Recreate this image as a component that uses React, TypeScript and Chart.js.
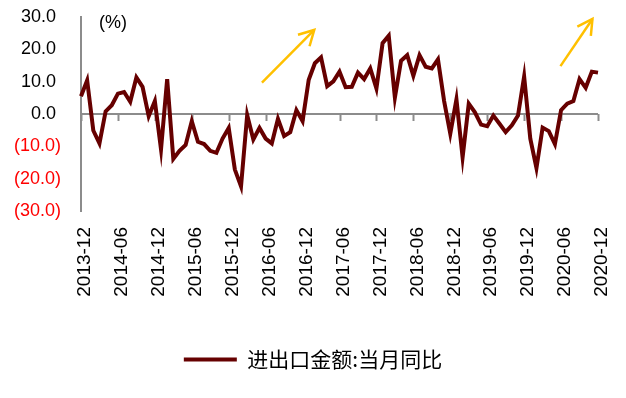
import React, { useEffect, useRef } from 'react';
import { Chart, registerables } from 'chart.js';

Chart.register(...registerables);

// Monthly categories 2013-12 .. 2020-12
const categories: string[] = (() => {
  const out: string[] = ['2013-12'];
  for (let y = 2014; y <= 2020; y++) {
    for (let m = 1; m <= 12; m++) out.push(`${y}-${String(m).padStart(2, '0')}`);
  }
  return out;
})();

const tickLabels = [
  '2013-12', '2014-06', '2014-12', '2015-06', '2015-12', '2016-06', '2016-12', '2017-06',
  '2017-12', '2018-06', '2018-12', '2019-06', '2019-12', '2020-06', '2020-12',
];

const seriesName = '进出口金额:当月同比';

const values = [
  5.5, 10.4, -5.1, -9.1, 0.8, 2.7, 6.3, 6.8, 3.8, 11.3, 8.4, -0.7,
  4.0, -10.9, 10.8, -13.9, -11.4, -9.6, -2.2, -8.6, -9.3, -11.4, -12.0, -7.6,
  -4.3, -17.2, -22.4, -0.3, -7.9, -4.3, -7.6, -9.1, -1.5, -6.8, -5.6, 1.2,
  -2.2, 10.6, 15.7, 17.5, 8.6, 10.1, 13.1, 8.3, 8.4, 12.8, 10.8, 14.1,
  7.9, 21.9, 24.2, 5.1, 16.5, 18.2, 11.8, 18.2, 14.6, 14.1, 16.9, 4.0,
  -6.1, 4.5, -13.4, 3.2, 0.5, -3.3, -3.8, -0.5, -3.0, -5.6, -3.5, -0.5,
  11.6, -7.6, -16.7, -4.2, -5.3, -9.3, 1.2, 3.2, 4.0, 10.8, 8.1, 13.1, 12.8,
];

const yMin = -30;
const yMax = 30;
const yStep = 10;
const unitLabel = '(%)';

// trend arrows in data coordinates: [categoryIndex, value]
const arrowFrom = [[29.4, 9.7], [77.9, 14.8]];
const arrowTo = [[37.9, 26.0], [83.1, 29.4]];

const lineColor = '#660000';
const axisColor = '#8c8c8c';
const arrowColor = '#FFC000';
const numFont = "'Liberation Sans', Arial, sans-serif";

const decorPlugin = {
  id: 'decor',
  afterLayout(chart: any) {
    const lg = chart.legend;
    if (lg) {
      lg.left += 10;
      lg.right += 10;
    }
  },
  beforeDatasetsDraw(chart: any) {
    const { ctx, chartArea, scales } = chart;
    const x = scales.x;
    const y = scales.y;
    const y0 = y.getPixelForValue(0);
    ctx.save();
    ctx.strokeStyle = axisColor;
    ctx.lineWidth = 2;
    ctx.beginPath();
    ctx.moveTo(chartArea.left, y0);
    ctx.lineTo(chartArea.right, y0);
    ctx.stroke();
    categories.forEach((c, i) => {
      if (!tickLabels.includes(c)) return;
      const px = Math.round(x.getPixelForValue(i)) + 0.5;
      ctx.beginPath();
      ctx.moveTo(px, y0);
      ctx.lineTo(px, y0 + 7);
      ctx.stroke();
    });
    ctx.restore();
  },
  afterDraw(chart: any) {
    const { ctx, chartArea, scales } = chart;
    const x = scales.x;
    const y = scales.y;
    ctx.save();
    ctx.fillStyle = '#000';
    ctx.font = `18px ${numFont}`;
    ctx.textAlign = 'left';
    ctx.textBaseline = 'middle';
    ctx.fillText(unitLabel, chartArea.left + 18, chartArea.top + 6);

    ctx.strokeStyle = arrowColor;
    ctx.lineWidth = 2.5;
    ctx.lineCap = 'butt';
    for (let k = 0; k < arrowFrom.length; k++) {
      const x1 = x.getPixelForValue(arrowFrom[k][0]);
      const y1 = y.getPixelForValue(arrowFrom[k][1]);
      const x2 = x.getPixelForValue(arrowTo[k][0]);
      const y2 = y.getPixelForValue(arrowTo[k][1]);
      const ang = Math.atan2(y2 - y1, x2 - x1);
      const head = 17;
      ctx.beginPath();
      ctx.moveTo(x1, y1);
      ctx.lineTo(x2, y2);
      ctx.stroke();
      ctx.beginPath();
      ctx.moveTo(x2 - head * Math.cos(ang - 0.5), y2 - head * Math.sin(ang - 0.5));
      ctx.lineTo(x2, y2);
      ctx.lineTo(x2 - head * Math.cos(ang + 0.5), y2 - head * Math.sin(ang + 0.5));
      ctx.stroke();
    }
    ctx.restore();
  },
};

export default function App() {
  const ref = useRef<HTMLCanvasElement>(null);
  useEffect(() => {
    if (!ref.current) return;
    const chart = new Chart(ref.current, {
      type: 'line',
      data: {
        labels: categories,
        datasets: [
          {
            label: seriesName,
            data: values,
            borderColor: lineColor,
            backgroundColor: lineColor,
            borderWidth: 4,
            pointRadius: 0,
            tension: 0,
            fill: false,
          },
        ],
      },
      options: {
        animation: false,
        responsive: false,
        devicePixelRatio: 1,
        layout: { padding: { left: 0, right: 20, top: 9, bottom: 10 } },
        scales: {
          x: {
            type: 'category',
            offset: false,
            grid: { display: false, drawTicks: false },
            border: { display: false },
            ticks: {
              autoSkip: false,
              minRotation: 90,
              maxRotation: 90,
              padding: 16,
              labelOffset: 4,
              color: '#000',
              font: { family: numFont, size: 19 },
              callback: (_v: any, i: number) => (tickLabels.includes(categories[i]) ? categories[i] : ''),
            },
            afterFit: (s: any) => {
              s.height = 128;
              s.paddingLeft = 0;
              s.paddingRight = 0;
            },
          },
          y: {
            min: yMin,
            max: yMax,
            grid: { display: false, drawTicks: false },
            border: { display: true, color: axisColor, width: 2 },
            ticks: {
              stepSize: yStep,
              padding: 20,
              font: { family: numFont, size: 18 },
              color: (c: any) => (c.tick && c.tick.value < 0 ? '#FF0000' : '#000000'),
              callback: (v: any) => {
                const n = Number(v);
                return n < 0 ? `(${Math.abs(n).toFixed(1)})` : `${n.toFixed(1)} `;
              },
            },
            afterFit: (s: any) => {
              s.width = 73;
              s.paddingTop = 0;
              s.paddingBottom = 0;
            },
          },
        },
        plugins: {
          tooltip: { enabled: false },
          legend: {
            position: 'bottom',
            labels: {
              color: '#000',
              font: { family: "'Noto Sans CJK SC', sans-serif", size: 21 },
              boxWidth: 53,
              boxHeight: 4,
              padding: 10,
              generateLabels: (ch: any) =>
                (Chart.defaults.plugins.legend.labels.generateLabels as any)(ch).map((l: any) => ({
                  ...l,
                  lineWidth: 0,
                  fillStyle: lineColor,
                  strokeStyle: lineColor,
                })),
            },
          },
        },
      },
      plugins: [decorPlugin],
    } as any);
    return () => chart.destroy();
  }, []);
  return <canvas ref={ref} width={610} height={382} style={{ display: 'block' }} />;
}
